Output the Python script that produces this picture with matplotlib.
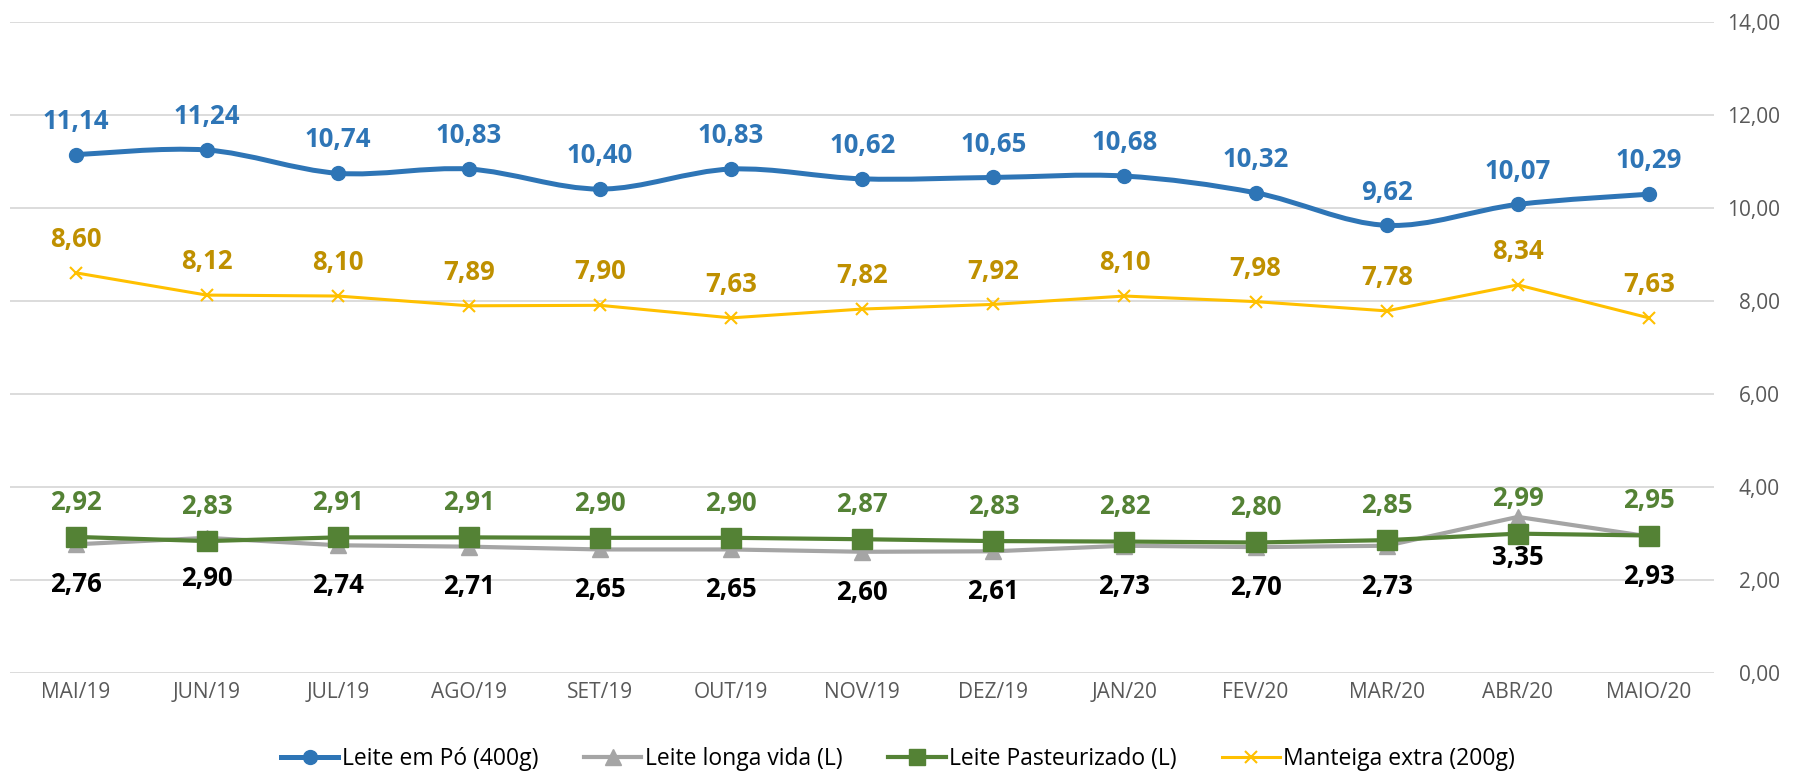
import matplotlib
matplotlib.use("Agg")
import matplotlib.pyplot as plt
from matplotlib.path import Path
from matplotlib.patches import PathPatch
from matplotlib.lines import Line2D
from matplotlib.ticker import FuncFormatter, MultipleLocator
import numpy as np

plt.rcParams['font.family'] = ['Open Sans', 'DejaVu Sans']

meses = ["MAI/19", "JUN/19", "JUL/19", "AGO/19", "SET/19", "OUT/19", "NOV/19",
         "DEZ/19", "JAN/20", "FEV/20", "MAR/20", "ABR/20", "MAIO/20"]
leite_po = [11.14, 11.24, 10.74, 10.83, 10.40, 10.83, 10.62, 10.65, 10.68, 10.32, 9.62, 10.07, 10.29]
longa_vida = [2.76, 2.90, 2.74, 2.71, 2.65, 2.65, 2.60, 2.61, 2.73, 2.70, 2.73, 3.35, 2.93]
pasteurizado = [2.92, 2.83, 2.91, 2.91, 2.90, 2.90, 2.87, 2.83, 2.82, 2.80, 2.85, 2.99, 2.95]
manteiga = [8.60, 8.12, 8.10, 7.89, 7.90, 7.63, 7.82, 7.92, 8.10, 7.98, 7.78, 8.34, 7.63]

AZUL = "#2E75B6"
CINZA = "#A5A5A5"
VERDE = "#548235"
OURO = "#FFC000"
OURO_TXT = "#BF9000"
TXT = "#595959"


def br(v):
    return f"{v:.2f}".replace(".", ",")


def smooth_path(x, y):
    # excel-style smoothed line: catmull-rom segments as cubic beziers
    pts = np.column_stack([x, y]).astype(float)
    n = len(pts)
    verts = [pts[0]]
    codes = [Path.MOVETO]
    for i in range(n - 1):
        p0 = pts[i - 1] if i > 0 else pts[i]
        p1 = pts[i]
        p2 = pts[i + 1]
        p3 = pts[i + 2] if i + 2 < n else pts[i + 1]
        verts += [p1 + (p2 - p0) / 6, p2 - (p3 - p1) / 6, p2]
        codes += [Path.CURVE4] * 3
    return Path(verts, codes)


fig = plt.figure(figsize=(17.96, 7.74), dpi=100)
ax = fig.add_axes([0.0056, 0.1309, 0.949, 0.8411])

x = np.arange(len(meses))

# gridlines
ax.set_ylim(0, 14)
ax.set_xlim(-0.5, len(meses) - 0.5)
ax.yaxis.set_major_locator(MultipleLocator(2))
ax.yaxis.grid(True, color="#D9D9D9", linewidth=1.3)
ax.set_axisbelow(True)
for s in ax.spines.values():
    s.set_visible(False)

# series
ax.plot(x, longa_vida, color=CINZA, lw=3.0, marker="^", ms=12, zorder=3)
ax.plot(x, pasteurizado, color=VERDE, lw=3.0, marker="s", ms=14, zorder=4)
ax.plot(x, manteiga, color=OURO, lw=2.2, marker="x", ms=9, mew=1.5, zorder=3)
ax.add_patch(PathPatch(smooth_path(x, leite_po), fill=False, edgecolor=AZUL,
                       lw=3.6, capstyle="round", zorder=5))
ax.plot(x, leite_po, ls="none", marker="o", ms=10, color=AZUL, zorder=6)

# data labels
lab_kw = dict(textcoords="offset points", ha="center", va="center",
              fontsize=18.5, fontweight="bold")
for xi, v in zip(x, leite_po):
    ax.annotate(br(v), (xi, v), xytext=(0, 24), color=AZUL, **lab_kw)
for xi, v in zip(x, manteiga):
    ax.annotate(br(v), (xi, v), xytext=(0, 24), color=OURO_TXT, **lab_kw)
for xi, v in zip(x, pasteurizado):
    ax.annotate(br(v), (xi, v), xytext=(0, 25), color=VERDE, **lab_kw)
for xi, v in zip(x, longa_vida):
    ax.annotate(br(v), (xi, v), xytext=(0, -29), color="black", **lab_kw)

# axes
ax.set_xticks(x)
ax.set_xticklabels(meses)
ax.yaxis.tick_right()
ax.yaxis.set_major_formatter(FuncFormatter(lambda v, p: br(v)))
ax.tick_params(axis="both", length=0, labelsize=15, labelcolor=TXT)
ax.tick_params(axis="x", pad=7)
ax.tick_params(axis="y", pad=47)
for t in ax.get_yticklabels():
    t.set_horizontalalignment("right")

handles = [
    Line2D([], [], color=AZUL, lw=3.6, marker="o", ms=10),
    Line2D([], [], color=CINZA, lw=3.0, marker="^", ms=12),
    Line2D([], [], color=VERDE, lw=3.0, marker="s", ms=12),
    Line2D([], [], color=OURO, lw=2.2, marker="x", ms=9, mew=1.5),
]
nomes = ["Leite em Pó (400g)", "Leite longa vida (L)", "Leite Pasteurizado (L)",
         "Manteiga extra (200g)"]
fig.legend(handles, nomes, loc="center", bbox_to_anchor=(0.5, 0.019), ncol=4,
           frameon=False, fontsize=16.5, handlelength=2.5, handletextpad=0.15,
           columnspacing=2.0, labelcolor="black")

fig.savefig("out.png", dpi=100)
